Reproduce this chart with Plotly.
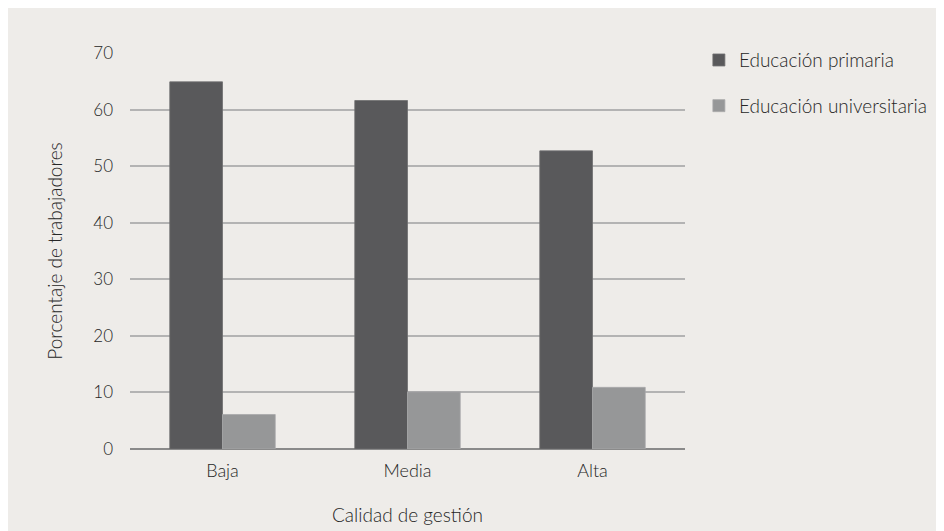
import plotly.graph_objects as go

categories = ["Baja", "Media", "Alta"]
primaria = [64.9, 61.6, 52.7]
universitaria = [6.1, 10.1, 10.9]
series_names = ["Educación primaria", "Educación universitaria"]
y_ticks = [0, 10, 20, 30, 40, 50, 60, 70]

BG = "#eeece9"
FONT = "Lato"
TXT = "#262626"

fig = go.Figure()
fig.add_trace(go.Bar(x=categories, y=primaria, name=series_names[0], legendgroup="a",
                     marker=dict(color="#59595b", line=dict(color="#6e6e70", width=0.8))))
fig.add_trace(go.Bar(x=categories, y=universitaria, name=series_names[1], legendgroup="b",
                     marker=dict(color="#969798", line=dict(color="#a8a8a9", width=0.8))))

L, R, T, B = 122, 267, 45, 90
W, H = 944, 531

fig.update_layout(
    width=W, height=H,
    margin=dict(l=L, r=R, t=T, b=B),
    paper_bgcolor=BG, plot_bgcolor=BG,
    barmode="group", bargap=0.43, bargroupgap=0,
    font=dict(family=FONT, color=TXT, size=17, weight=300),
    legend=dict(x=1.025, y=1.03, xanchor="left", yanchor="top",
                font=dict(size=19, color=TXT, weight=300), bgcolor="rgba(0,0,0,0)",
                itemclick=False, tracegroupgap=18),
    xaxis=dict(range=[-0.5, 2.5], showgrid=False, showline=False, zeroline=False,
               ticks="", ticklabelstandoff=9, tickfont=dict(size=18, weight=300),
               title=dict(text="Calidad de gestión", font=dict(size=19, weight=300), standoff=28)),
    yaxis=dict(range=[0, 70], tickvals=y_ticks, showgrid=True, gridcolor="#b3b3b3",
               gridwidth=1.5, zeroline=True, zerolinecolor="#8a8a8a", zerolinewidth=1.5,
               showline=False, ticks="", ticklabelstandoff=16, tickfont=dict(size=17, weight=300),
               title=dict(text="Porcentaje de trabajadores", font=dict(size=19, weight=300), standoff=25)),
)

fig.write_html("out.html")
